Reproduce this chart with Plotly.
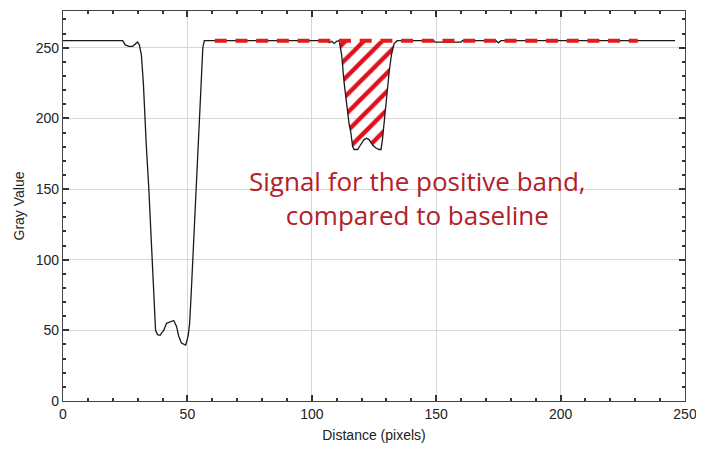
import plotly.graph_objects as go

# Profile data (Distance in pixels vs Gray Value)
distance = [0, 24, 25, 26.5, 28, 29, 30, 30.7, 31.5, 32.3, 32.9, 33.5, 34.5, 35.1, 35.7, 36.5, 37.2,
            38, 39, 39.6, 40.5, 41.6, 43, 44.5, 45.6, 46.5, 47.6, 48.5, 49.3, 50.3, 50.9, 51.5,
            52.2, 52.9, 53.6, 54.2, 54.9, 55.5, 56.2, 56.8,
            106, 107, 108, 109, 110, 111, 112, 113, 114, 115, 115.7, 116.4, 117, 118.4, 119.5,
            121, 122, 123, 124.5, 125.8, 127, 127.8, 128.4, 129.1, 130, 131.1, 132, 133.1, 134.3,
            149, 149.5, 160, 160.5, 174, 175, 176, 246]
gray_value = [255, 255, 252, 251, 251, 252.5, 254, 252, 245, 225, 200, 180, 150, 125, 100, 75, 50,
              47, 46.5, 48, 50, 55, 56, 57, 53, 46, 41, 40, 39.5, 46, 55, 75,
              100, 125, 150, 175, 200, 225, 250, 255,
              255, 253.5, 254.5, 253, 254.5, 255, 245, 225, 208, 196, 190, 180, 178, 178, 181,
              185, 186, 185, 181, 179, 178, 178, 185, 198, 215, 233, 245, 253, 255,
              255, 254, 254, 255, 255, 253.5, 255, 255]

baseline_value = 255
baseline_x = [61, 231]
band_range = [111, 134.3]

x_ticks = [0, 50, 100, 150, 200, 250]
y_ticks = [0, 50, 100, 150, 200, 250]

annotation_text = "Signal for the positive band,<br>compared to baseline"

band_x = [x for x in distance if band_range[0] <= x <= band_range[1]]
band_y = [y for x, y in zip(distance, gray_value) if band_range[0] <= x <= band_range[1]]

fig = go.Figure()

# baseline under the band (invisible, used as fill reference)
fig.add_trace(go.Scatter(x=[band_x[0], band_x[-1]], y=[baseline_value, baseline_value],
                         mode="lines", line=dict(width=0, color="rgba(0,0,0,0)"),
                         showlegend=False, hoverinfo="skip"))
# hatched band
fig.add_trace(go.Scatter(x=band_x, y=band_y, mode="lines", line=dict(width=0, color="rgba(0,0,0,0)"),
                         fill="tonexty", fillcolor="rgba(0,0,0,0)",
                         fillpattern=dict(shape="/", fgcolor="#e0101a", fgopacity=1,
                                          bgcolor="rgba(0,0,0,0)", size=13, solidity=0.33),
                         showlegend=False, hoverinfo="skip"))
# profile curve
fig.add_trace(go.Scatter(x=distance, y=gray_value, mode="lines",
                         line=dict(color="#1a1a1a", width=1.3), showlegend=False))
# dashed baseline
fig.add_trace(go.Scatter(x=baseline_x, y=[baseline_value, baseline_value], mode="lines",
                         line=dict(color="#e31b1b", width=4, dash="12px,8.7px"), showlegend=False))

fig.add_annotation(x=142.5, y=144, xref="x", yref="y", text=annotation_text, showarrow=False,
                   font=dict(family="Open Sans", size=26, color="#b3202a"), align="center",
                   xanchor="center", yanchor="middle")

axis_common = dict(showline=True, linecolor="#444", linewidth=1.2, mirror="ticks",
                   ticks="inside", ticklen=6, tickcolor="#333", tickwidth=1.5,
                   showgrid=True, gridcolor="#d6d6d6", gridwidth=1, zeroline=False,
                   automargin=False,
                   tickfont=dict(family="Liberation Sans, Arial", size=14, color="#222"),
                   minor=dict(ticks="inside", ticklen=3, tickcolor="#333", dtick=10, showgrid=False))

fig.update_xaxes(range=[0, 250], tickvals=x_ticks, **axis_common,
                 title=dict(text="Distance (pixels)", standoff=9,
                            font=dict(family="Liberation Sans, Arial", size=14, color="#222")))
fig.update_yaxes(range=[0, 276], tickvals=y_ticks, **axis_common,
                 title=dict(text="Gray Value", standoff=7,
                            font=dict(family="Liberation Sans, Arial", size=14, color="#222")))

# page has an 8px body margin, so the figure is sized to fit the 704x450 window
fig.update_layout(width=696, height=442, margin=dict(l=55, r=19, t=3, b=49),
                  plot_bgcolor="white", paper_bgcolor="white")

fig.write_html("out.html")
